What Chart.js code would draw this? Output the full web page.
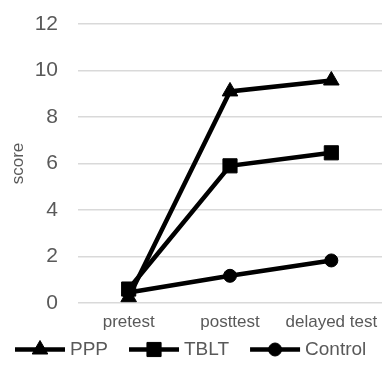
<!DOCTYPE html>
<html>
<head>
<meta charset="utf-8">
<script src="https://cdn.jsdelivr.net/npm/chart.js@4"></script>
<style>
  html, body { margin: 0; padding: 0; background: #fff; }
  #wrap { width: 382px; height: 378px; position: relative; }
</style>
</head>
<body>
<div id="wrap"><canvas id="mycanvas"></canvas></div>
<script>
var tests = ['pretest', 'posttest', 'delayed test'];
var ppp = [0.25, 9.1, 9.57];
var tblt = [0.6, 5.9, 6.46];
var control = [0.45, 1.17, 1.83];
var yTicks = [0, 2, 4, 6, 8, 10, 12];

var grey = '#595959';
var fontFamily = '"Liberation Sans", Arial, sans-serif';
var lineShift = 14;   // legend line drawn this far right of the legend box start

// plot area runs to the right edge, legend nudged left
var fixArea = {
  id: 'fixArea',
  afterLayout: function(chart) {
    var area = chart.chartArea, xs = chart.scales.x;
    area.right = chart.width;
    area.width = area.right - area.left;
    xs.right = chart.width;
    xs.width = xs.right - xs.left;
    xs.configure();
    chart.legend.left -= 6;
    chart.legend.right -= 6;
  }
};

// legend: line + marker in front of each label
var legendMarks = {
  id: 'legendMarks',
  afterDraw: function(chart) {
    var lg = chart.legend;
    if (!lg || !lg.legendHitBoxes) return;
    var ctx = chart.ctx;
    lg.legendItems.forEach(function(item, i) {
      var box = lg.legendHitBoxes[i];
      var ds = chart.data.datasets[item.datasetIndex];
      var y = box.top + box.height / 2;
      var x0 = box.left + lineShift, x1 = x0 + 50;
      ctx.save();
      ctx.strokeStyle = '#000';
      ctx.lineWidth = 4.5;
      ctx.beginPath();
      ctx.moveTo(x0, y);
      ctx.lineTo(x1, y);
      ctx.stroke();
      ctx.fillStyle = '#000';
      ctx.lineWidth = 1;
      Chart.helpers.drawPoint(ctx, {
        pointStyle: ds.pointStyle,
        rotation: 0,
        borderWidth: 1,
        radius: ds.pointRadius
      }, (x0 + x1) / 2, y);
      ctx.restore();
    });
  }
};

function series(label, data, style, r) {
  return {
    label: label,
    data: data,
    borderColor: '#000',
    backgroundColor: '#000',
    borderWidth: 4.5,
    pointStyle: style,
    pointRadius: r,
    pointHoverRadius: r,
    pointBackgroundColor: '#000',
    pointBorderColor: '#000',
    pointBorderWidth: 1,
    tension: 0,
    fill: false
  };
}

var ctx = document.getElementById('mycanvas');
var lineChart = new Chart(ctx, {
  type: 'line',
  data: {
    labels: tests,
    datasets: [
      series('PPP', ppp, 'triangle', 9),
      series('TBLT', tblt, 'rect', 10),
      series('Control', control, 'circle', 6.5)
    ]
  },
  options: {
    responsive: true,
    maintainAspectRatio: false,
    animation: false,
    layout: { padding: { left: 0, right: 0, top: 24, bottom: 9 } },
    plugins: {
      legend: {
        position: 'bottom',
        align: 'start',
        labels: {
          font: { family: fontFamily, size: 19 },
          color: grey,
          boxWidth: 45.5 + lineShift,
          boxHeight: 4,
          padding: 21 - lineShift,
          generateLabels: function(chart) {
            return chart.data.datasets.map(function(ds, i) {
              return {
                text: ds.label,
                fillStyle: 'rgba(0,0,0,0)',
                strokeStyle: 'rgba(0,0,0,0)',
                lineWidth: 0,
                fontColor: grey,
                datasetIndex: i
              };
            });
          }
        }
      },
      tooltip: { enabled: false }
    },
    scales: {
      x: {
        offset: true,
        grid: { display: false, drawTicks: false },
        border: { display: false },
        afterFit: function(axis) {
          axis.height = 30;
          axis.paddingLeft = 0;
          axis.paddingRight = 0;
        },
        ticks: {
          color: grey,
          font: { family: fontFamily, size: 17 },
          padding: 9,
          autoSkip: false,
          maxRotation: 0
        }
      },
      y: {
        min: 0,
        max: 12,
        afterBuildTicks: function(axis) {
          axis.ticks = yTicks.map(function(v) { return { value: v }; });
        },
        afterFit: function(axis) {
          axis.width = 78;
          axis.paddingTop = 0;
          axis.paddingBottom = 0;
        },
        grid: { color: '#d9d9d9', lineWidth: 1.5, drawTicks: false },
        border: { display: false },
        title: {
          display: true,
          text: 'score',
          color: grey,
          font: { family: fontFamily, size: 17 },
          padding: { top: 8, bottom: 6 }
        },
        ticks: {
          color: grey,
          font: { family: fontFamily, size: 21 },
          padding: 20
        }
      }
    }
  },
  plugins: [fixArea, legendMarks]
});
</script>
</body>
</html>
